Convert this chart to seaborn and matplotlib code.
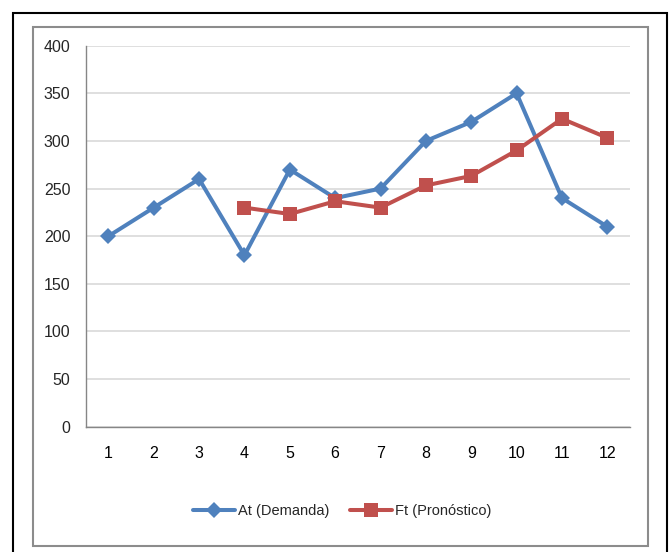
import matplotlib.pyplot as plt
import numpy as np
import pandas as pd
import seaborn as sns
from matplotlib.patches import Rectangle

# Periods and series
periods = [1, 2, 3, 4, 5, 6, 7, 8, 9, 10, 11, 12]
demanda = [200, 230, 260, 180, 270, 240, 250, 300, 320, 350, 240, 210]
pronostico = [np.nan, np.nan, np.nan, 230, 223.3, 236.7, 230, 253.3, 263.3, 290, 323.3, 303.3]
y_ticks = [0, 50, 100, 150, 200, 250, 300, 350, 400]

BLUE = "#4F81BD"
RED = "#C0504D"

sns.set_theme(style="white")
plt.rcParams["font.family"] = ["Liberation Sans Narrow", "Liberation Sans", "DejaVu Sans"]

df = pd.DataFrame({"Periodo": periods, "At": demanda, "Ft": pronostico})

fig = plt.figure(figsize=(6.72, 5.52), dpi=100)
ax = fig.add_axes([85.7 / 672, 1 - 426.7 / 552, (630 - 85.7) / 672, (426.7 - 45.7) / 552])

sns.lineplot(data=df, x="Periodo", y="At", ax=ax, color=BLUE, linewidth=2.9,
             marker="D", markersize=8.5, markeredgewidth=0, label="At (Demanda)")
sns.lineplot(data=df.dropna(), x="Periodo", y="Ft", ax=ax, color=RED, linewidth=2.9,
             marker="s", markersize=9.5, markeredgewidth=0, label="Ft (Pronóstico)")

ax.set_xlim(0.5, 12.5)
ax.set_ylim(0, 400)
ax.set_yticks(y_ticks)
ax.set_xticks(periods)
ax.set_xticks(np.arange(0.5, 13, 1), minor=True)
ax.tick_params(axis="x", which="major", length=0, pad=14, labelsize=11.5, colors="black")
ax.tick_params(axis="x", which="minor", length=5, width=1, color="#868686")
ax.tick_params(axis="y", length=5, width=1, color="#868686", labelsize=11.5, pad=6)
ax.set_xlabel("")
ax.set_ylabel("")

ax.yaxis.grid(True, color="#d9d9d9", linewidth=1.2)
ax.set_axisbelow(True)
for side in ["top", "right"]:
    ax.spines[side].set_visible(False)
for side in ["left", "bottom"]:
    ax.spines[side].set_color("#868686")
    ax.spines[side].set_linewidth(1)

ax.legend(loc="center", bbox_to_anchor=(342 / 672, 1 - 511 / 552),
          bbox_transform=fig.transFigure, ncol=2, frameon=False,
          fontsize=10.5, handlelength=2.9, columnspacing=1.4, handletextpad=0.2)

# Outer frames
fig.patches.append(Rectangle((13 / 672, -0.01), (667 - 13) / 672, 1 - 13 / 552 + 0.01,
                             transform=fig.transFigure, fill=False,
                             edgecolor="black", linewidth=1.5))
fig.patches.append(Rectangle((33 / 672, 1 - 546 / 552), (648 - 33) / 672, (546 - 27) / 552,
                             transform=fig.transFigure, fill=False,
                             edgecolor="#8c8c8c", linewidth=1.5))

fig.savefig("out.png", dpi=100)
